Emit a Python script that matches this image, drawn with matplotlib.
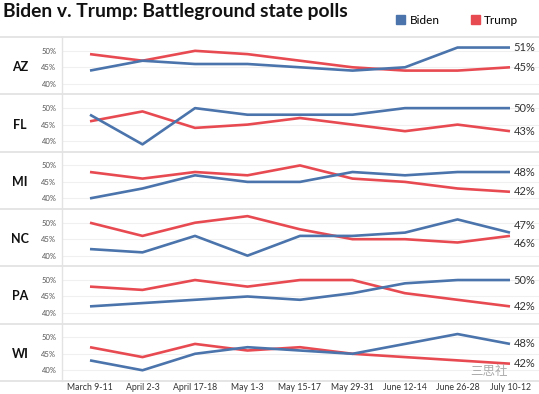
import matplotlib
matplotlib.use("Agg")
from matplotlib import pyplot as plt
from matplotlib.lines import Line2D
from matplotlib.patches import Patch
import matplotlib.transforms as mtransforms

plt.rcParams['font.family'] = ['Lato', 'DejaVu Sans']

dates = ["March 9-11", "April 2-3", "April 17-18", "May 1-3", "May 15-17",
         "May 29-31", "June 12-14", "June 26-28", "July 10-12"]
states = ["AZ", "FL", "MI", "NC", "PA", "WI"]
biden = {
    "AZ": [44, 47, 46, 46, 45, 44, 45, 51, 51],
    "FL": [48, 39, 50, 48, 48, 48, 50, 50, 50],
    "MI": [40, 43, 47, 45, 45, 48, 47, 48, 48],
    "NC": [42, 41, 46, 40, 46, 46, 47, 51, 47],
    "PA": [42, 43, 44, 45, 44, 46, 49, 50, 50],
    "WI": [43, 40, 45, 47, 46, 45, 48, 51, 48],
}
trump = {
    "AZ": [49, 47, 50, 49, 47, 45, 44, 44, 45],
    "FL": [46, 49, 44, 45, 47, 45, 43, 45, 43],
    "MI": [48, 46, 48, 47, 50, 46, 45, 43, 42],
    "NC": [50, 46, 50, 52, 48, 45, 45, 44, 46],
    "PA": [48, 47, 50, 48, 50, 50, 46, 44, 42],
    "WI": [47, 44, 48, 46, 47, 45, 44, 43, 42],
}
yticks = [40, 45, 50]

BLUE = "#4a74ab"
RED = "#e84a52"
W, H = 539, 394

fig = plt.figure(figsize=(W / 100, H / 100), dpi=100)

def fx(px):
    return px / W

def fy(py):
    return 1 - py / H

left, right = 62, 539
top0, ph = 37.0, 57.3
x0_px, x8_px = 90, 510
unit = (x8_px - x0_px) / (len(dates) - 1)
xlim = (-(x0_px - left) / unit, len(dates) - 1 + (right - x8_px) / unit)

sep_color = "#e3e3e3"
for i, st in enumerate(states):
    top = top0 + i * ph
    ax = fig.add_axes([fx(left), fy(top + ph), fx(right - left), ph / H])
    ax.set_xlim(*xlim)
    ax.set_ylim(36.8, 54.2)
    for s in ax.spines.values():
        s.set_visible(False)
    ax.set_yticks(yticks)
    ax.set_yticklabels([f"{v}%" for v in yticks], fontsize=5.5, color="#555555")
    ax.tick_params(axis="y", length=0, pad=4)
    ax.grid(axis="y", color="#f0f0f0", linewidth=0.8)
    ax.set_axisbelow(True)
    xs = range(len(dates))
    ax.plot(xs, trump[st], color=RED, linewidth=1.9, solid_capstyle="butt")
    ax.plot(xs, biden[st], color=BLUE, linewidth=1.9, solid_capstyle="butt")
    b, t = biden[st][-1], trump[st][-1]
    yb, yt = b, t
    if abs(b - t) < 5.5:
        mid = (b + t) / 2
        sgn = 1 if b >= t else -1
        yb, yt = mid + sgn * 2.8, mid - sgn * 2.8
    for v, yy in ((b, yb), (t, yt)):
        ax.text(len(dates) - 1 + 0.07, yy, f"{v}%", fontsize=8, color="#333333",
                va="center", ha="left")
    trans = mtransforms.blended_transform_factory(ax.transAxes, ax.transData)
    ax.text((20 - left) / (right - left), 45, st, transform=trans, fontsize=9,
            fontweight="bold", ha="center", va="center", color="#111111")
    if i == len(states) - 1:
        ax.set_xticks(list(xs))
        ax.set_xticklabels(dates, fontsize=6.3, color="#333333")
        ax.tick_params(axis="x", length=0, pad=1.5)
    else:
        ax.set_xticks([])

# separators
for i in range(len(states) + 1):
    y = top0 + i * ph
    fig.add_artist(Line2D([0, 1], [fy(y), fy(y)], color=sep_color, linewidth=1.3))
fig.add_artist(Line2D([fx(left), fx(left)], [fy(top0), fy(top0 + 6 * ph)],
                      color=sep_color, linewidth=1.0))

fig.text(fx(3), fy(12), "Biden v. Trump: Battleground state polls", fontsize=13.9,
         fontweight="bold", color="#111111", va="center", ha="left")

handles = [Patch(color=BLUE, label="Biden"), Patch(color=RED, label="Trump")]
fig.legend(handles=handles, loc="center right", bbox_to_anchor=(fx(529), fy(20)),
           ncol=2, frameon=False, fontsize=8.5, handlelength=0.75, handleheight=0.75,
           handletextpad=0.35, columnspacing=2.7)

fig.text(fx(470), fy(372), "三思社", fontsize=9, color="#aaaaaa",
         family=["Noto Sans CJK SC", "DejaVu Sans"], ha="left", va="center")

fig.savefig("out.png", dpi=100)
